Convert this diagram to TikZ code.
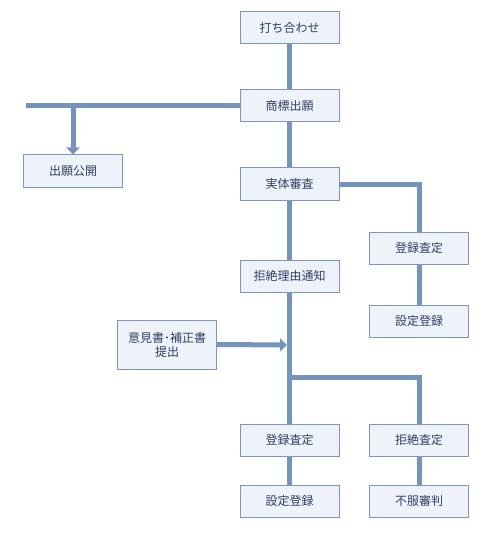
\documentclass[tikz,border=0pt]{standalone}
\usepackage{fontspec}
\setmainfont{Noto Sans CJK JP}
\usetikzlibrary{arrows.meta}
\definecolor{lineblue}{HTML}{7393C0}
\definecolor{boxfill}{HTML}{EEF2F9}
\definecolor{boxline}{HTML}{7A96C4}
\definecolor{txt}{HTML}{2E4066}
\begin{document}
\begin{tikzpicture}[x=1pt,y=-1pt,
  stepbox/.style={draw=boxline,line width=1pt,fill=boxfill,minimum width=99pt,minimum height=32pt,inner sep=0pt,text=txt,font=\fontsize{12}{14}\selectfont,align=center},
  conn/.style={draw=lineblue,line width=5pt},
  arr/.style={conn,-{Triangle[length=7pt,width=13pt]}}]
\useasboundingbox (0,0) rectangle (498,540);
\node[stepbox] (meet) at (289.5,28) {打ち合わせ};
\node[stepbox] (app) at (289.5,106) {商標出願};
\node[stepbox] (pub) at (73,171) {出願公開};
\node[stepbox] (exam) at (289.5,184) {実体審査};
\node[stepbox] (reg1) at (419,248) {登録査定};
\node[stepbox] (set1) at (419,321) {設定登録};
\node[stepbox] (refn) at (289.5,276) {拒絶理由通知};
\node[stepbox,minimum height=49pt] (op) at (167,344.5) {意見書･補正書\\提出};
\node[stepbox] (reg2) at (289.5,440) {登録査定};
\node[stepbox] (set2) at (289.5,501) {設定登録};
\node[stepbox] (rej) at (419,440) {拒絶査定};
\node[stepbox] (appeal) at (419,501) {不服審判};
\coordinate (lstart) at (26,106);
\coordinate (pubbr) at (73,106);
\coordinate (opend) at (287,345);
\coordinate (br2) at (289.5,377);
\draw[conn] (meet) -- (app);
\draw[conn] (lstart) -- (app.west);
\draw[arr] (pubbr) -- (pub.north);
\draw[conn] (app) -- (exam);
\draw[conn] (exam.east) -| (reg1.north);
\draw[conn] (reg1) -- (set1);
\draw[conn] (exam) -- (refn);
\draw[conn] (refn.south) -- (reg2.north);
\draw[conn] (br2) -| (rej.north);
\draw[arr] (op.east) -- (opend);
\draw[conn] (reg2) -- (set2);
\draw[conn] (rej) -- (appeal);
\end{tikzpicture}
\end{document}
